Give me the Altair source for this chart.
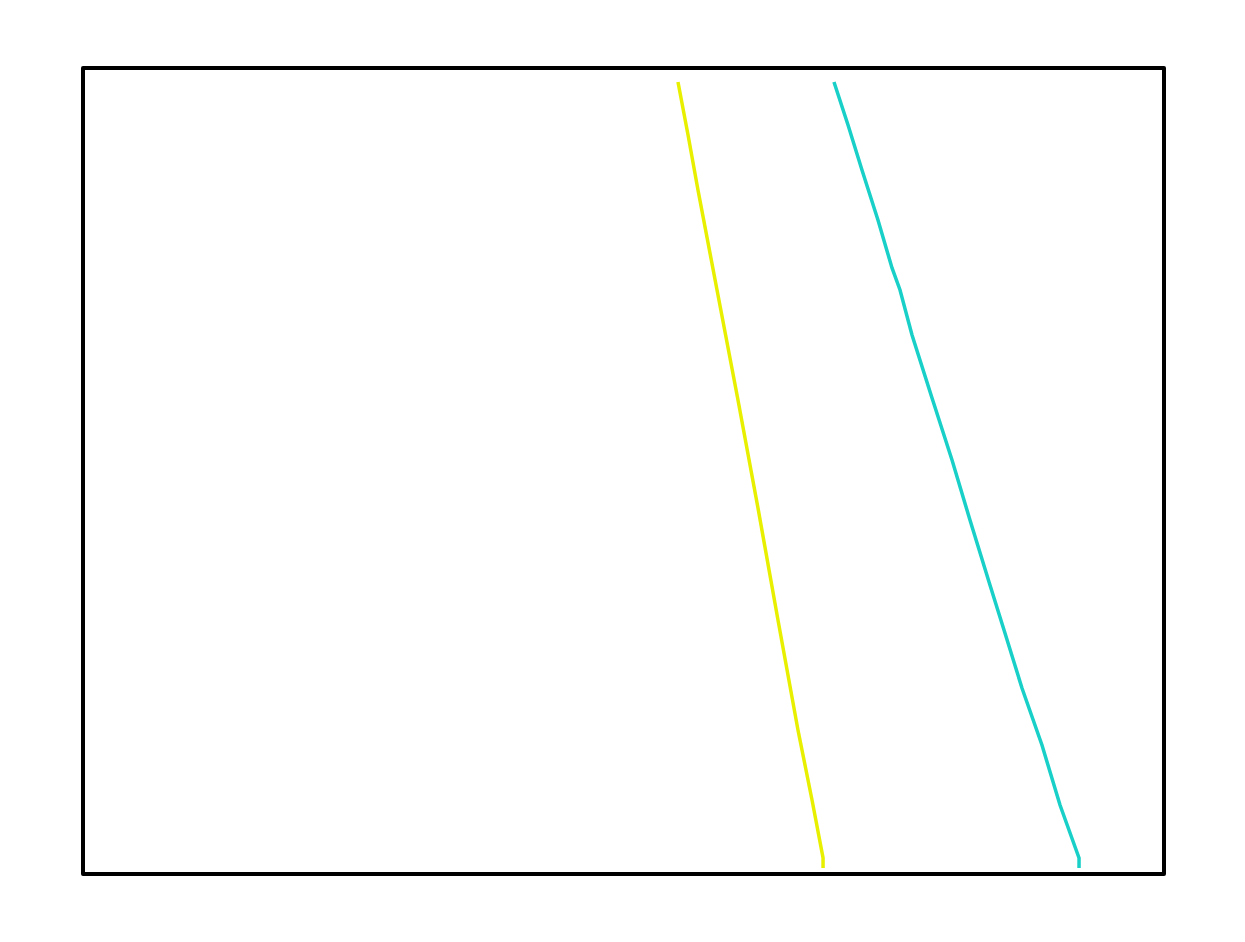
import altair as alt
import pandas as pd

# Series values (data units: x and y both on 0..100)
yellow_x = [55.04, 55.97, 56.89, 58.74, 60.59, 62.44, 64.29, 66.14, 67.44, 68.46, 68.46]
yellow_y = [98.26, 91.69, 84.86, 71.84, 58.81, 45.41, 31.51, 17.87, 9.18, 1.99, 0.74]

cyan_x = [69.47, 70.77, 72.06, 73.54, 74.84, 75.58, 76.69, 78.54, 80.39, 82.05, 83.90, 85.20,
          86.86, 88.71, 90.38, 92.14, 92.14]
cyan_y = [98.26, 92.93, 87.34, 81.14, 75.19, 72.46, 66.87, 59.06, 51.36, 43.92, 35.86, 30.27,
          23.08, 16.00, 8.56, 1.99, 0.74]

series_names = ["a", "b"]
series_colors = ["#e8f000", "#18d0c8"]

rows = []
for i, (x, y) in enumerate(zip(yellow_x, yellow_y)):
    rows.append({"series": "a", "x": x, "y": y, "order": i})
for i, (x, y) in enumerate(zip(cyan_x, cyan_y)):
    rows.append({"series": "b", "x": x, "y": y, "order": i})
df = pd.DataFrame(rows)

W, H = 1081, 806

lines = (
    alt.Chart(df)
    .mark_line(strokeWidth=3.5)
    .encode(
        x=alt.X("x:Q", scale=alt.Scale(domain=[0, 100], nice=False, zero=False), axis=None),
        y=alt.Y("y:Q", scale=alt.Scale(domain=[0, 100], nice=False, zero=False), axis=None),
        color=alt.Color("series:N", scale=alt.Scale(domain=series_names, range=series_colors), legend=None),
        order="order:Q",
    )
)

frame = (
    alt.Chart(pd.DataFrame({"k": [0]}))
    .mark_rect(fill="transparent", stroke="black", strokeWidth=4, strokeJoin="round")
    .encode(x=alt.value(0), x2=alt.value(W), y=alt.value(0), y2=alt.value(H))
)

chart = (
    alt.layer(lines, frame)
    .properties(
        width=W,
        height=H,
        autosize=alt.AutoSizeParams(type="none"),
        padding={"left": 75, "top": 60, "right": 20, "bottom": 20},
    )
    .configure_view(strokeOpacity=0, fill="white")
    .configure(background="white")
)

chart.save("out.html", embed_options={"renderer": "svg", "actions": False})
